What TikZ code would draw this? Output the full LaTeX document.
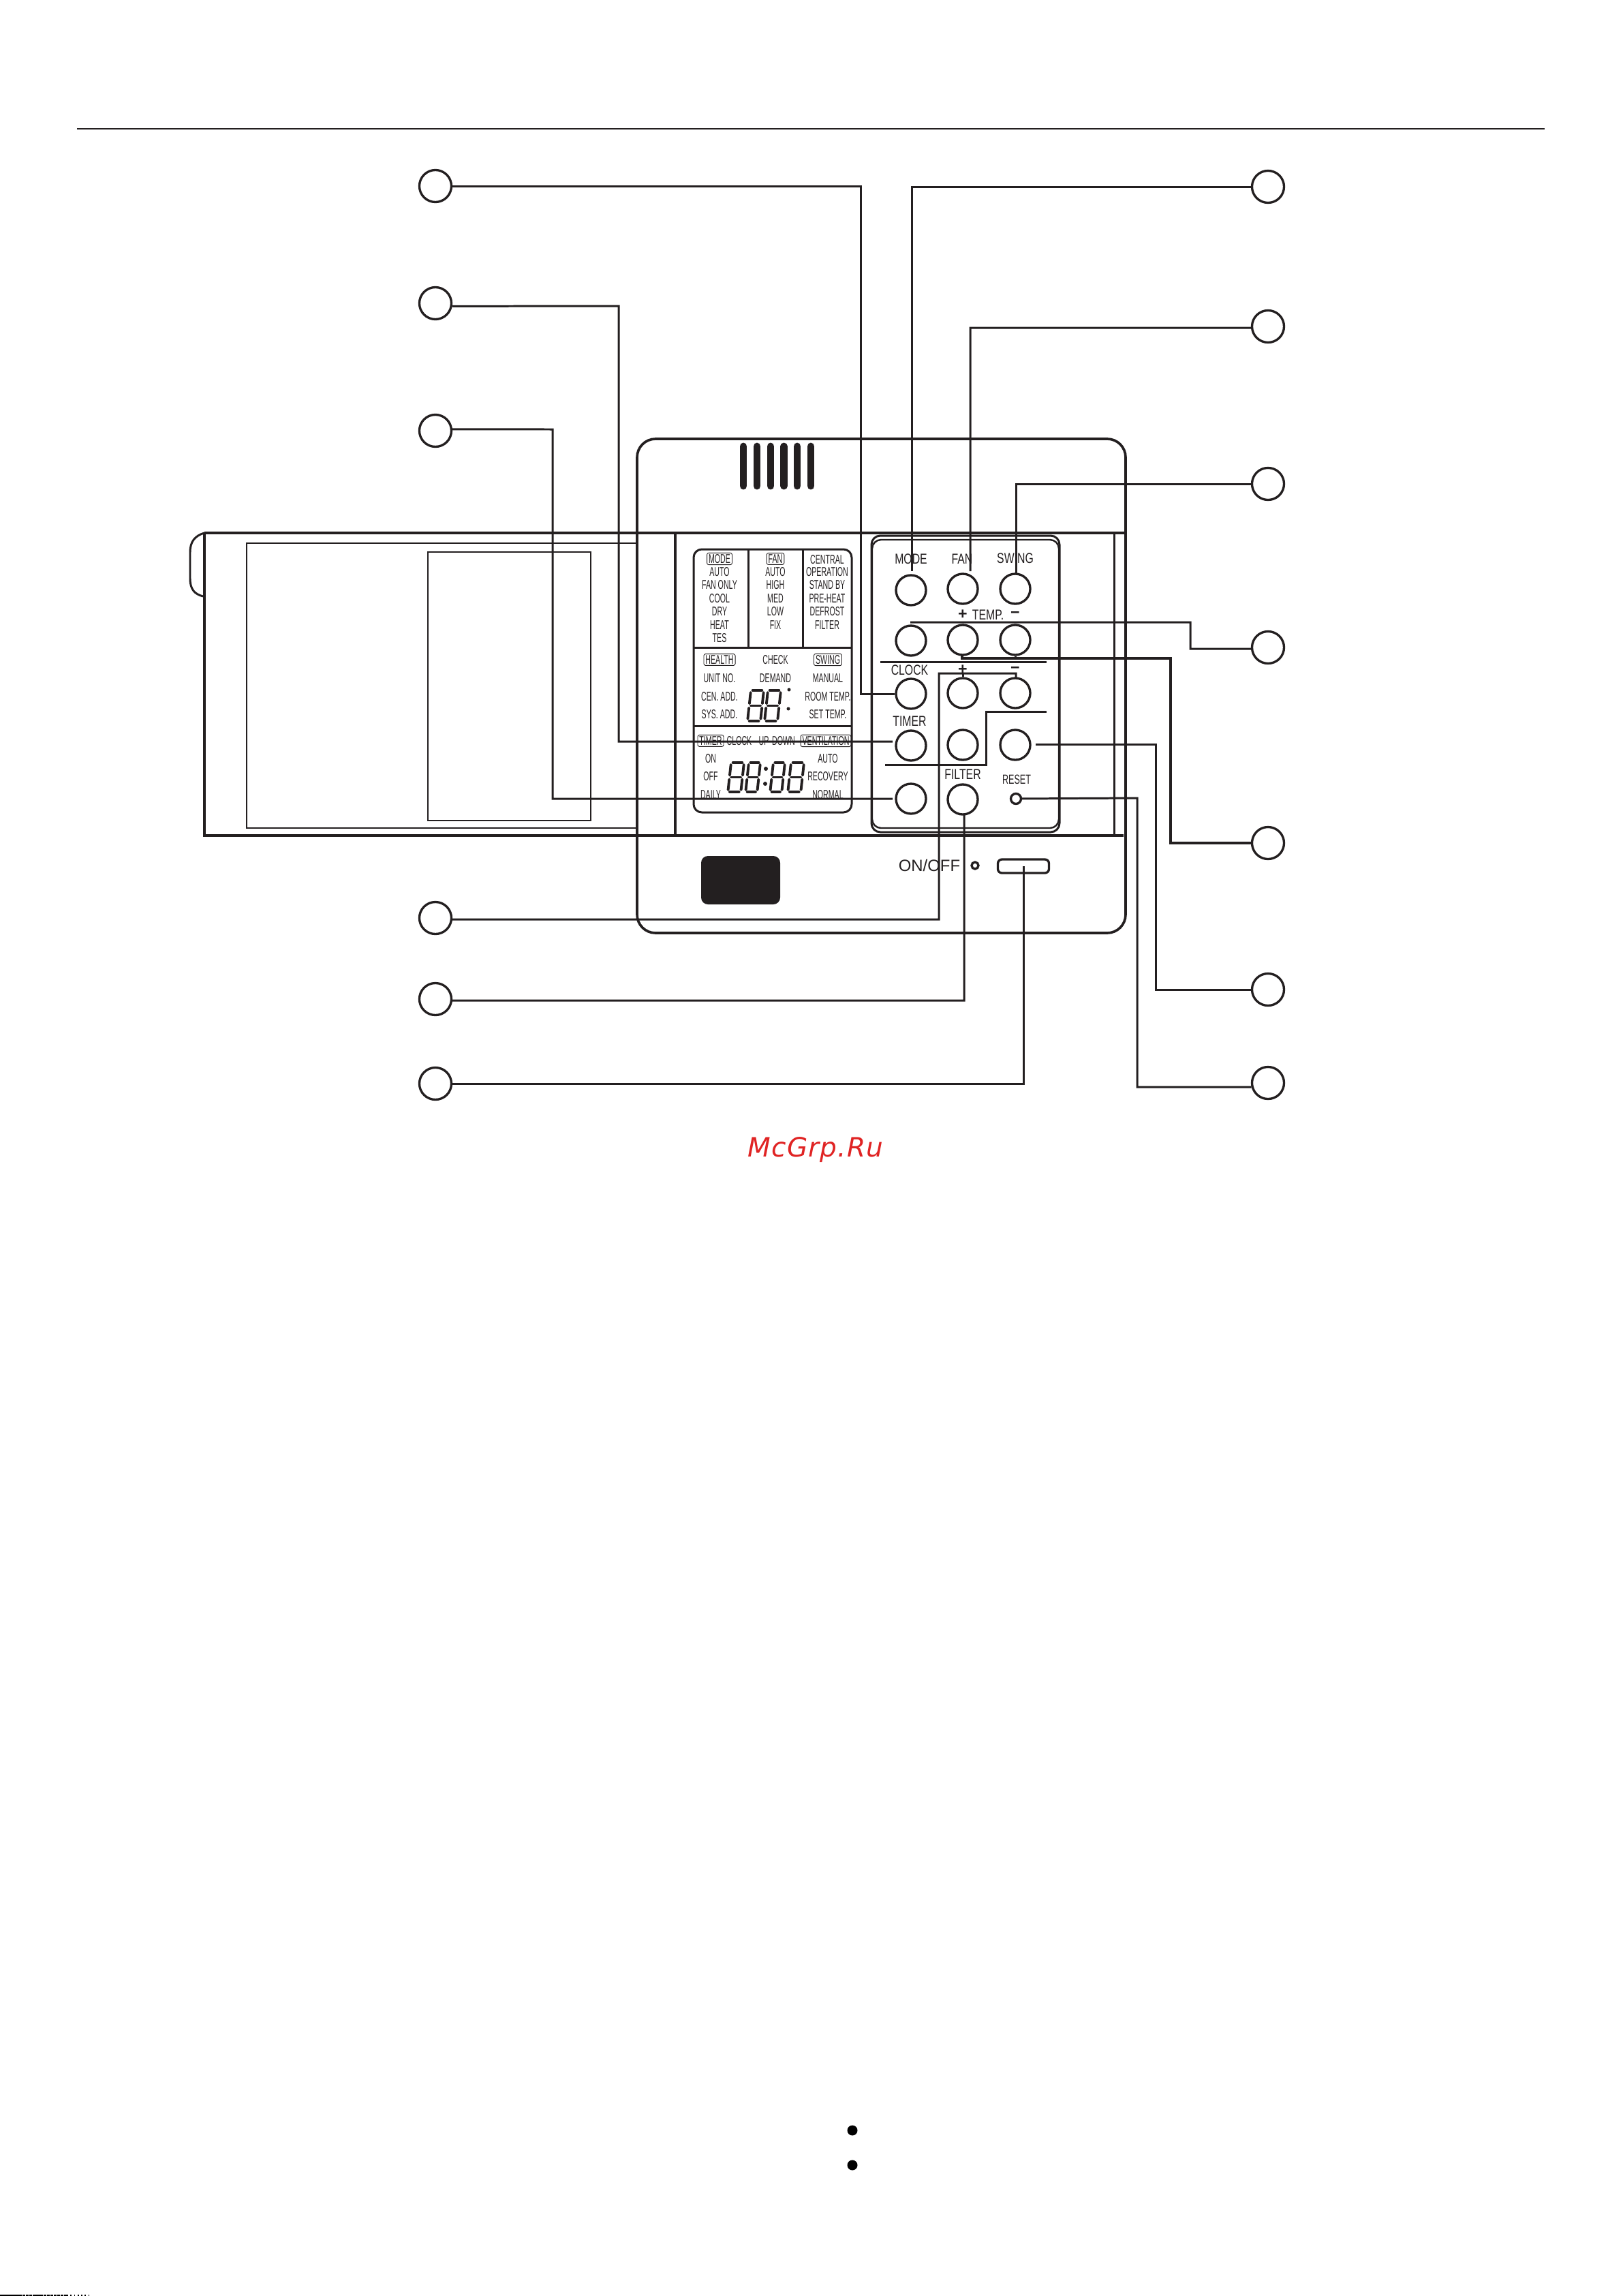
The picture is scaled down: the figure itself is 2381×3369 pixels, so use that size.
\documentclass[tikz,border=0pt]{standalone}
\usepackage{fontspec}
\setmainfont{Liberation Sans}
\newfontfamily\lcdfam[FakeStretch=0.57]{Liberation Sans}
\newfontfamily\keyfam[FakeStretch=0.75]{Liberation Sans}
\newfontfamily\rstfam[FakeStretch=0.65]{Liberation Sans}
\newfontfamily\wmfam[LetterSpace=3]{DejaVu Sans}
\definecolor{ink}{HTML}{231F20}
\definecolor{wmred}{HTML}{E02424}
\newcommand\sevenseg[4]{%
  \begin{scope}[shift={(#1,#2)},x={(#3*0.01cm,0cm)},y={(-0.11*#4*0.01cm,-#4*0.01cm)},line width=1.1pt,line cap=round,draw=ink]
    \draw (.14,0)--(.86,0);
    \draw (.14,.5)--(.86,.5);
    \draw (.14,1)--(.86,1);
    \draw (0,.07)--(0,.43);
    \draw (1,.07)--(1,.43);
    \draw (0,.57)--(0,.93);
    \draw (1,.57)--(1,.93);
  \end{scope}}
\tikzset{
  thickline/.style={draw=ink,line width=1.05pt},
  midline/.style={draw=ink,line width=.85pt},
  thinline/.style={draw=ink,line width=.7pt},
  conn/.style={draw=ink,line width=.85pt,line join=miter},
  callout/.style={circle,draw=ink,line width=.95pt,minimum size=.47cm,inner sep=0pt},
  keybtn/.style={circle,draw=ink,line width=.95pt,minimum size=.44cm,inner sep=0pt},
  lcd/.style={inner sep=0pt,text=ink,font=\lcdfam\fontsize{5.3pt}{6pt}\selectfont},
  lcdbox/.style={lcd,draw=ink,line width=.25pt,rounded corners=.025cm,inner xsep=.025cm,inner ysep=.02cm},
  keytext/.style={inner sep=0pt,text=ink,font=\keyfam\fontsize{6pt}{7pt}\selectfont},
  rsttext/.style={inner sep=0pt,text=ink,font=\rstfam\fontsize{5.5pt}{6.5pt}\selectfont},
  onoff/.style={inner sep=0pt,text=ink,font=\fontsize{6.8pt}{8pt}\selectfont},
  signtext/.style={inner sep=0pt,text=ink,font=\bfseries\fontsize{6.6pt}{8pt}\selectfont},
  vent/.style={draw=ink,line width=3.1pt,line cap=round},
  dotmark/.style={fill=black,draw=none},
}
\begin{document}
\begin{tikzpicture}[x=0.01cm,y=-0.01cm]
\useasboundingbox (0,0) rectangle (2381,3369);
% top rule
\draw[draw=ink,line width=.8pt] (113,189) -- (2267,189);
% body
\draw[thickline,rounded corners=.27cm] (935,644) rectangle (1652,1369);
\foreach \vx in {1091,1111,1131,1150.5,1170,1190} \draw[vent] (\vx,655) -- (\vx,713);
% band
\draw[thickline] (300,782) -- (1652,782);
\draw[thickline] (300,782) -- (300,1226) -- (1649,1226);
\draw[thickline] (991,782) -- (991,1226);
\draw[midline] (1635,782) -- (1635,1226);
\draw[midline] (300,782) .. controls (286,786) and (279,795) .. (279,810) -- (279,849) .. controls (279,865) and (286,872) .. (298,875);
\draw[thinline] (935,797) -- (362,797) -- (362,1215) -- (935,1215);
\draw[thinline] (628,810) rectangle (867,1204);
% black window
\fill[ink,rounded corners=.1cm] (1029,1256) rectangle (1145,1327);
% LCD
\draw[midline,rounded corners=.12cm] (1018,806) rectangle (1250,1192);
\draw[midline] (1018,950) -- (1250,950);
\draw[midline] (1018,1065) -- (1250,1065);
\draw[midline] (1098,806) -- (1098,950);
\draw[midline] (1178,806) -- (1178,950);
\node[lcdbox] (tMode) at (1056,820) {MODE};
\node[lcd] (t1) at (1056,839) {AUTO};
\node[lcd] (t2) at (1056,858) {FAN ONLY};
\node[lcd] (t3) at (1056,878) {COOL};
\node[lcd] (t4) at (1056,897) {DRY};
\node[lcd] (t5) at (1056,917) {HEAT};
\node[lcd] (t6) at (1056,936) {TES};
\node[lcdbox] (tFan) at (1138,820) {FAN};
\node[lcd] (t7) at (1138,839) {AUTO};
\node[lcd] (t8) at (1138,858) {HIGH};
\node[lcd] (t9) at (1138,878) {MED};
\node[lcd] (t10) at (1138,897) {LOW};
\node[lcd] (t11) at (1138,917) {FIX};
\node[lcd] (t12) at (1214,821) {CENTRAL};
\node[lcd] (t13) at (1214,839) {OPERATION};
\node[lcd] (t14) at (1214,858) {STAND BY};
\node[lcd] (t15) at (1214,878) {PRE-HEAT};
\node[lcd] (t16) at (1214,897) {DEFROST};
\node[lcd] (t17) at (1214,917) {FILTER};
\node[lcdbox] (tHealth) at (1056,968) {HEALTH};
\node[lcd] (t18) at (1138,968) {CHECK};
\node[lcdbox] (tSwing) at (1215,968) {SWING};
\node[lcd] (t19) at (1056,995) {UNIT NO.};
\node[lcd] (t20) at (1138,995) {DEMAND};
\node[lcd] (t21) at (1215,995) {MANUAL};
\node[lcd] (t22) at (1056,1022) {CEN. ADD.};
\node[lcd] (t23) at (1215,1022) {ROOM TEMP.};
\node[lcd] (t24) at (1056,1048) {SYS. ADD.};
\node[lcd] (t25) at (1215,1048) {SET TEMP.};
\node[lcdbox] (tTimer) at (1043,1087) {TIMER};
\node[lcd] (t26) at (1085,1087) {CLOCK};
\node[lcd] (t27) at (1121,1087) {UP};
\node[lcd] (t28) at (1150,1087) {DOWN};
\node[lcdbox] (tVent) at (1212,1087) {VENTILATION};
\node[lcd] (t29) at (1043,1113) {ON};
\node[lcd] (t30) at (1043,1139) {OFF};
\node[lcd] (t31) at (1043,1166) {DAILY};
\node[lcd] (t32) at (1215,1113) {AUTO};
\node[lcd] (t33) at (1215,1139) {RECOVERY};
\node[lcd] (t34) at (1215,1166) {NORMAL};
% seven segment digits
\sevenseg{1102}{1013}{19}{45}
\sevenseg{1127}{1013}{19}{45}
\sevenseg{1073}{1119}{19}{43}
\sevenseg{1099}{1119}{17}{43}
\sevenseg{1135}{1119}{17}{43}
\sevenseg{1161}{1119}{19}{43}
\fill[ink] (1158,1012) circle (2.5);
\fill[ink] (1157,1040) circle (2.5);
\fill[ink] (1124,1128) circle (3);
\fill[ink] (1123,1150) circle (3);
% keypad
\draw[midline,rounded corners=.13cm] (1279,786) rectangle (1555,1221);
\draw[thinline,rounded corners=.13cm] (1280,792) rectangle (1554,1215);
\draw[midline] (1292,971) -- (1536,971);
\draw[conn] (1299,1122) -- (1447,1122) -- (1447,1044) -- (1536,1044);
\node[keybtn] (b11) at (1337,866) {};
\node[keybtn] (b12) at (1413,864) {};
\node[keybtn] (b13) at (1490,864) {};
\node[keybtn] (b21) at (1337,940) {};
\node[keybtn] (b22) at (1413,939) {};
\node[keybtn] (b23) at (1490,939) {};
\node[keybtn] (b31) at (1337,1018) {};
\node[keybtn] (b32) at (1413,1017) {};
\node[keybtn] (b33) at (1490,1017) {};
\node[keybtn] (b41) at (1337,1094) {};
\node[keybtn] (b42) at (1413,1093) {};
\node[keybtn] (b43) at (1490,1093) {};
\node[keybtn] (b51) at (1337,1172) {};
\node[keybtn] (b52) at (1413,1173) {};
\node[circle,draw=ink,line width=.95pt,minimum size=.15cm,inner sep=0pt] (bReset) at (1491,1172) {};
\node[keytext] (kMode) at (1337,820) {MODE};
\node[keytext] (kFan) at (1412,820) {FAN};
\node[keytext] (kSwing) at (1490,819) {SWING};
\node[keytext] (kTemp) at (1450,902) {TEMP.};
\node[signtext] (kP1) at (1413,902) {+};
\node[signtext] (kM1) at (1490,902) {−};
\node[keytext] (kClock) at (1335,983) {CLOCK};
\node[signtext] (kP2) at (1413,983) {+};
\node[signtext] (kM2) at (1490,983) {−};
\node[keytext] (kTimer) at (1335,1058) {TIMER};
\node[keytext] (kFilter) at (1413,1136) {FILTER};
\node[rsttext] (kReset) at (1492,1144) {RESET};
% on/off
\node[onoff] (kOnOff) at (1364,1270) {ON/OFF};
\node[circle,draw=ink,line width=.95pt,minimum size=.1cm,inner sep=0pt] (led) at (1431,1270) {};
\node[rectangle,rounded corners=.06cm,draw=ink,line width=.95pt,minimum width=.75cm,minimum height=.2cm,inner sep=0pt] (sw) at (1502,1271) {};
% callouts
\node[callout] (l1) at (639,273) {};
\node[callout] (l2) at (639,445) {};
\node[callout] (l3) at (639,632) {};
\node[callout] (l4) at (639,1347) {};
\node[callout] (l5) at (639,1466) {};
\node[callout] (l6) at (639,1590) {};
\node[callout] (r1) at (1861,274) {};
\node[callout] (r2) at (1861,479) {};
\node[callout] (r3) at (1861,710) {};
\node[callout] (r4) at (1861,950) {};
\node[callout] (r5) at (1861,1237) {};
\node[callout] (r6) at (1861,1452) {};
\node[callout] (r7) at (1861,1589) {};
% connectors
\draw[conn] (l1) -- (1263,273) -- (1263,1018) -- (b31);
\draw[conn] (l2.-10) -- (908,449) -- (908,1088) -- (1310,1088);
\draw[conn] (l3.5) -- (811,630) -- (811,1172) -- (1310,1172);
\draw[conn] (l4.-5) -- (1378,1349) -- (1378,988) -- (1491,988) -- (1491,995);
\draw[conn] (1413,988) -- (b32);
\draw[conn] (l5.-5) -- (1415,1468) -- (1415,1195);
\draw[conn] (l6) -- (1502,1590) -- (sw.center);
\draw[conn] (r1) -- (1338,274) -- (1338,838);
\draw[conn] (r2.185) -- (1424,481) -- (1424,838);
\draw[conn] (r3) -- (1491,710) -- (1491,842);
\draw[conn] (r4.185) -- (1747,952) -- (1747,913) -- (1336,913);
\draw[conn,line width=1.05pt] (r5) -- (1718,1237) -- (1718,966) -- (1412,966) -- (1412,962);
\draw[conn] (1490,966) -- (b23);
\draw[conn] (r6) -- (1696,1452) -- (1696,1092) -- (1520,1092);
\draw[conn] (r7.194) -- (1669,1595) -- (1669,1171) -- (bReset);
% watermark
\node[inner sep=0pt,text=wmred,font=\wmfam\itshape\fontsize{11.1pt}{13pt}\selectfont] (wm) at (1197,1687) {McGrp.Ru};
% bullets
\fill[dotmark] (1251,3126) circle (7.5);
\fill[dotmark] (1251,3177) circle (7.5);
% bottom strip
\draw[draw=black,line width=.6pt] (0,3368) -- (32,3368);
\draw[draw=black,line width=.6pt,dash pattern=on 1.2pt off .25pt] (33,3368) -- (98,3368);
\draw[draw=black,line width=.6pt,dash pattern=on .5pt off 1pt] (98,3368) -- (130,3368);
\end{tikzpicture}
\end{document}
